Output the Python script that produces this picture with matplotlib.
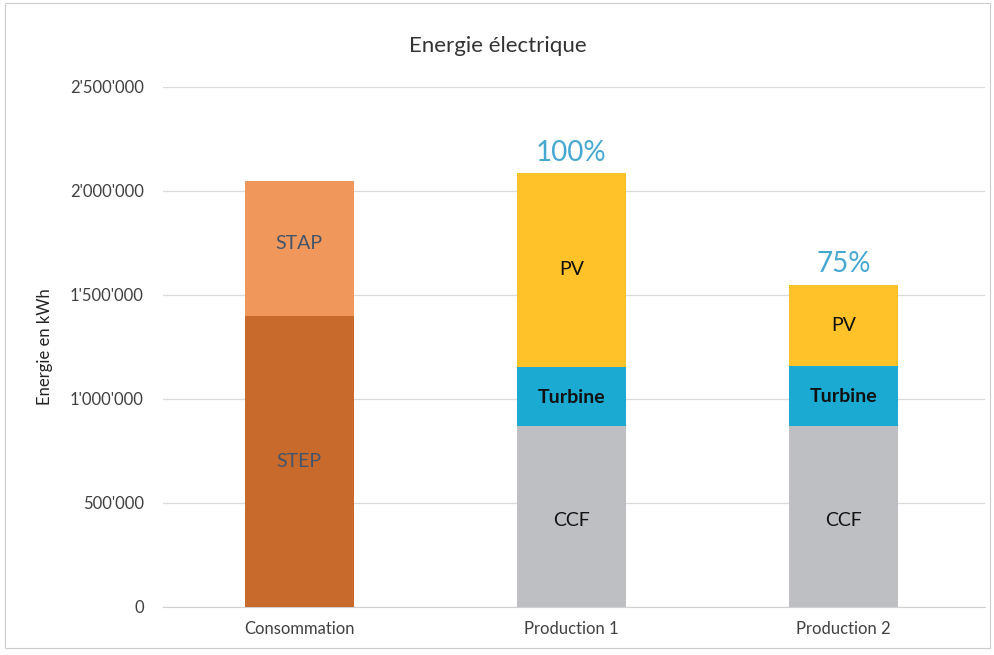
import numpy as np
import matplotlib.pyplot as plt
from matplotlib.ticker import FuncFormatter, MultipleLocator
from matplotlib.patches import Rectangle

# Data (kWh)
categories = ["Consommation", "Production 1", "Production 2"]
step = [1400000, 0, 0]
stap = [650000, 0, 0]
ccf = [0, 870000, 870000]
turbine = [0, 285000, 290000]
pv = [0, 930000, 390000]
pct_labels = ["", "100%", "75%"]

plt.rcParams['font.family'] = ['Lato', 'DejaVu Sans']

fig = plt.figure(figsize=(9.95, 6.55), dpi=100)
ax = fig.add_axes([0.164, 0.0733, 0.826, 0.794])

x = np.arange(len(categories))
w = 0.4

def fmt(v, pos):
    v = int(round(v))
    if v == 0:
        return "0"
    return f"{v:,}".replace(",", "'")

# stacked bars
ax.bar(x[:1], step[:1], w, color="#C86A2C", zorder=3)
ax.bar(x[:1], stap[:1], w, bottom=step[:1], color="#F0975C", zorder=3)
ax.bar(x[1:], ccf[1:], w, color="#BEBFC2", zorder=3)
bot2 = np.array(ccf[1:])
ax.bar(x[1:], turbine[1:], w, bottom=bot2, color="#1AAAD2", zorder=3)
bot3 = bot2 + np.array(turbine[1:])
ax.bar(x[1:], pv[1:], w, bottom=bot3, color="#FFC229", zorder=3)

# segment labels
ax.text(x[0], step[0] / 2, "STEP", ha="center", va="center", fontsize=14, color="#44546A", zorder=4)
ax.text(x[0], step[0] + stap[0] / 2 + 20000, "STAP", ha="center", va="center", fontsize=14, color="#44546A", zorder=4)
for i in (1, 2):
    ax.text(x[i], ccf[i] / 2 - 20000, "CCF", ha="center", va="center", fontsize=14, color="#111111", zorder=4)
    ax.text(x[i], ccf[i] + turbine[i] / 2 - 5000, "Turbine", ha="center", va="center", fontsize=14,
            color="#111111", fontweight="bold", zorder=4)
    ax.text(x[i], ccf[i] + turbine[i] + pv[i] / 2, "PV", ha="center", va="center", fontsize=14,
            color="#111111", zorder=4)
    total = ccf[i] + turbine[i] + pv[i]
    ax.text(x[i], total + 35000, pct_labels[i], ha="center", va="bottom", fontsize=20,
            color="#45A8D0", zorder=4)

ax.set_xlim(-0.5, 2.52)
ax.set_ylim(0, 2500000)
ax.yaxis.set_major_locator(MultipleLocator(500000))
ax.yaxis.set_major_formatter(FuncFormatter(fmt))
ax.set_xticks(x)
ax.set_xticklabels(categories)
ax.tick_params(axis="both", length=0, labelsize=12, labelcolor="#404040")
ax.tick_params(axis="y", pad=14)
ax.tick_params(axis="x", pad=10)
ax.grid(axis="y", color="#D9D9D9", linewidth=0.9, zorder=0)
for s in ["top", "right", "left"]:
    ax.spines[s].set_visible(False)
ax.spines["bottom"].set_color("#D0D0D0")

ax.set_ylabel("Energie en kWh", fontsize=12, color="#222222", labelpad=12)
fig.text(0.5, 0.93, "Energie électrique", ha="center", va="center", fontsize=16, color="#333333")

# scanned page border
fig.patches.append(Rectangle((0.005, 0.01), 0.99, 0.985, transform=fig.transFigure,
                             fill=False, edgecolor="#CCCCCC", linewidth=0.8))

fig.savefig("out.png", dpi=100)
